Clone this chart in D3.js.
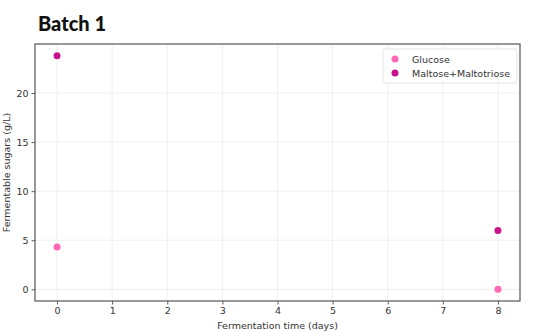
<!DOCTYPE html>
<html>
<head>
<meta charset="utf-8">
<script src="https://cdn.jsdelivr.net/npm/d3@7"></script>
<style>
  body { margin: 0; background: #fff; }
  svg { font-family: "DejaVu Sans", sans-serif; }
</style>
</head>
<body>
<div id="chart"></div>
<script>
// Batch 1 - fermentable sugars over time

const days = [0, 8];
const glucose = [4.3, 0.0];
const maltose = [23.8, 6.0];
const xTicks = [0, 1, 2, 3, 4, 5, 6, 7, 8];
const yTicks = [0, 5, 10, 15, 20];

const series = [
    { name: "Glucose", values: glucose, color: "#ff69b4" },
    { name: "Maltose+Maltotriose", values: maltose, color: "#c8148a" }
];

const W = 534, H = 332;
const margin = { top: 44, right: 14, bottom: 31, left: 35 };
const width = W - margin.left - margin.right;
const height = H - margin.top - margin.bottom;

const root = d3.select("#chart").append("svg")
    .attr("width", W)
    .attr("height", H);

// Title
root.append("text")
    .attr("x", 38)
    .attr("y", 31)
    .attr("font-family", "Lato, 'DejaVu Sans', sans-serif")
    .attr("font-weight", "900")
    .attr("font-size", 20)
    .attr("fill", "#111")
    .text("Batch 1");

const svg = root.append("g")
    .attr("transform", `translate(${margin.left},${margin.top})`);

// Scales (matplotlib-style 5% padding)
const x = d3.scaleLinear().domain([-0.4, 8.4]).range([0, width]);
const y = d3.scaleLinear().domain([-1.19, 24.99]).range([height, 0]);

// Grid
svg.append("g").selectAll("line")
    .data(xTicks)
    .enter().append("line")
    .attr("x1", d => x(d)).attr("x2", d => x(d))
    .attr("y1", 0).attr("y2", height)
    .attr("stroke", "#ebebeb").attr("stroke-width", 0.8);

svg.append("g").selectAll("line")
    .data(yTicks)
    .enter().append("line")
    .attr("y1", d => y(d)).attr("y2", d => y(d))
    .attr("x1", 0).attr("x2", width)
    .attr("stroke", "#ebebeb").attr("stroke-width", 0.8);

// Axes
const xAxis = svg.append("g")
    .attr("transform", `translate(0,${height})`)
    .call(d3.axisBottom(x).tickValues(xTicks).tickSize(3.5).tickPadding(3).tickFormat(d3.format("d")));

const yAxis = svg.append("g")
    .call(d3.axisLeft(y).tickValues(yTicks).tickSize(3.5).tickPadding(3).tickFormat(d3.format("d")));

[xAxis, yAxis].forEach(a => {
    a.select(".domain").remove();
    a.selectAll("text").attr("font-size", 9.5).attr("fill", "#333").attr("font-family", "'DejaVu Sans', sans-serif");
    a.selectAll("line").attr("stroke", "#333").attr("stroke-width", 0.8);
});

// Frame
svg.append("rect")
    .attr("width", width)
    .attr("height", height)
    .attr("fill", "none")
    .attr("stroke", "#555")
    .attr("stroke-width", 1.2);

// Axis labels
svg.append("text")
    .attr("x", width / 2)
    .attr("y", height + 28)
    .attr("text-anchor", "middle")
    .attr("font-size", 9.5)
    .attr("fill", "#333")
    .text("Fermentation time (days)");

svg.append("text")
    .attr("transform", "rotate(-90)")
    .attr("x", -height / 2)
    .attr("y", -25)
    .attr("text-anchor", "middle")
    .attr("font-size", 9.5)
    .attr("fill", "#333")
    .text("Fermentable sugars (g/L)");

// Points
series.forEach(s => {
    svg.append("g").selectAll("circle")
        .data(days.map((d, i) => ({ day: d, value: s.values[i] })))
        .enter().append("circle")
        .attr("cx", d => x(d.day))
        .attr("cy", d => y(d.value))
        .attr("r", 3.5)
        .attr("fill", s.color);
});

// Legend
const legend = svg.append("g")
    .attr("transform", `translate(${width - 137},5)`);

legend.append("rect")
    .attr("width", 134)
    .attr("height", 34)
    .attr("rx", 2)
    .attr("fill", "#fff")
    .attr("fill-opacity", 0.8)
    .attr("stroke", "#ddd")
    .attr("stroke-width", 0.8);

series.forEach((s, i) => {
    const row = legend.append("g").attr("transform", `translate(0,${10 + i * 14})`);
    row.append("circle").attr("cx", 12).attr("cy", 0).attr("r", 3.5).attr("fill", s.color);
    row.append("text")
        .attr("x", 29)
        .attr("y", 3.5)
        .attr("font-size", 9.5)
        .attr("fill", "#333")
        .text(s.name);
});
</script>
</body>
</html>
